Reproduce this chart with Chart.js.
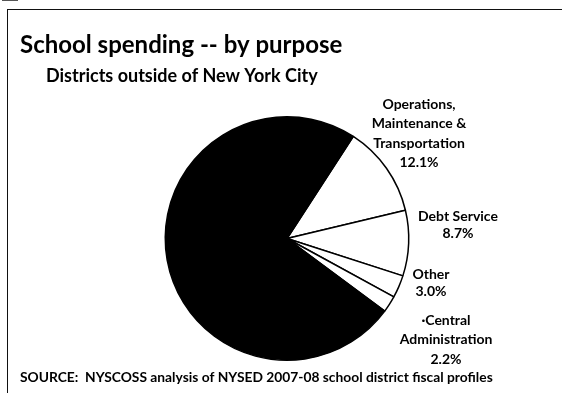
<!DOCTYPE html>
<html>
<head>
<meta charset="utf-8">
<script src="https://cdn.jsdelivr.net/npm/chart.js@4"></script>
<style>
    html, body { margin: 0; padding: 0; background: #fff; }
    #wrap { position: relative; width: 562px; height: 393px; overflow: hidden; }
    #frame {
        position: absolute; left: 7px; top: 9px; width: 560px; height: 400px;
        border-top: 1.5px solid #111; border-left: 1.5px solid #111;
    }
    #nick { position: absolute; left: 2px; top: 0; width: 16px; height: 1px; background: #555; }
    canvas { position: absolute; left: 0; top: 0; }
</style>
</head>
<body>
<div id="wrap">
    <div id="nick"></div>
    <div id="frame"></div>
    <canvas id="spendChart" width="562" height="393"></canvas>
</div>
<script>
const categories = [
    ['Operations,', 'Maintenance &', 'Transportation'],
    ['Debt Service'],
    ['Other'],
    ['\u00b7Central', 'Administration'],
    ['Instruction']
];
const shares = [12.1, 8.7, 3.0, 2.2, 74.0];
const sliceColours = ['#ffffff', '#ffffff', '#ffffff', '#ffffff', '#000000'];
const showLabel = [true, true, true, true, false];

const titleText = 'School spending -- by purpose';
const subtitleText = 'Districts outside of New York City';
const sourceText = 'SOURCE:  NYSCOSS analysis of NYSED 2007-08 school district fiscal profiles';

// where each slice label block is centred (x, first line y)
const labelAnchors = [
    { x: 419, y: 104 },
    { x: 458, y: 216 },
    { x: 431, y: 274 },
    { x: 446, y: 320 }
];

const FONT = 'Lato, "Open Sans", sans-serif';

const textPlugin = {
    id: 'pageText',
    afterDraw(chart) {
        const ctx = chart.ctx;
        ctx.save();
        ctx.fillStyle = '#000';
        ctx.textBaseline = 'middle';

        ctx.textAlign = 'left';
        ctx.font = 'bold 24px ' + FONT;
        ctx.fillText(titleText, 20, 45);
        ctx.font = 'bold 18px ' + FONT;
        ctx.fillText(subtitleText, 46, 76);
        ctx.font = 'bold 13.8px ' + FONT;
        ctx.fillText(sourceText, 20, 378);

        ctx.textAlign = 'center';
        ctx.font = 'bold 14px ' + FONT;
        categories.forEach((lines, i) => {
            if (!showLabel[i]) return;
            const a = labelAnchors[i];
            const all = lines.concat([shares[i].toFixed(1) + '%']);
            const step = lines.length > 1 ? 19.5 : 17.5;
            all.forEach((line, j) => ctx.fillText(line, a.x, a.y + j * step));
        });
        ctx.restore();
    }
};

new Chart(document.getElementById('spendChart').getContext('2d'), {
    type: 'pie',
    data: {
        labels: categories.map(l => l.join(' ')),
        datasets: [{
            data: shares,
            backgroundColor: sliceColours,
            borderColor: '#000',
            borderWidth: 1.5
        }]
    },
    options: {
        responsive: false,
        animation: false,
        rotation: 33,
        layout: {
            padding: { left: 164, right: 152, top: 116, bottom: 32 }
        },
        plugins: {
            legend: { display: false },
            tooltip: { enabled: false }
        }
    },
    plugins: [textPlugin]
});
</script>
</body>
</html>
